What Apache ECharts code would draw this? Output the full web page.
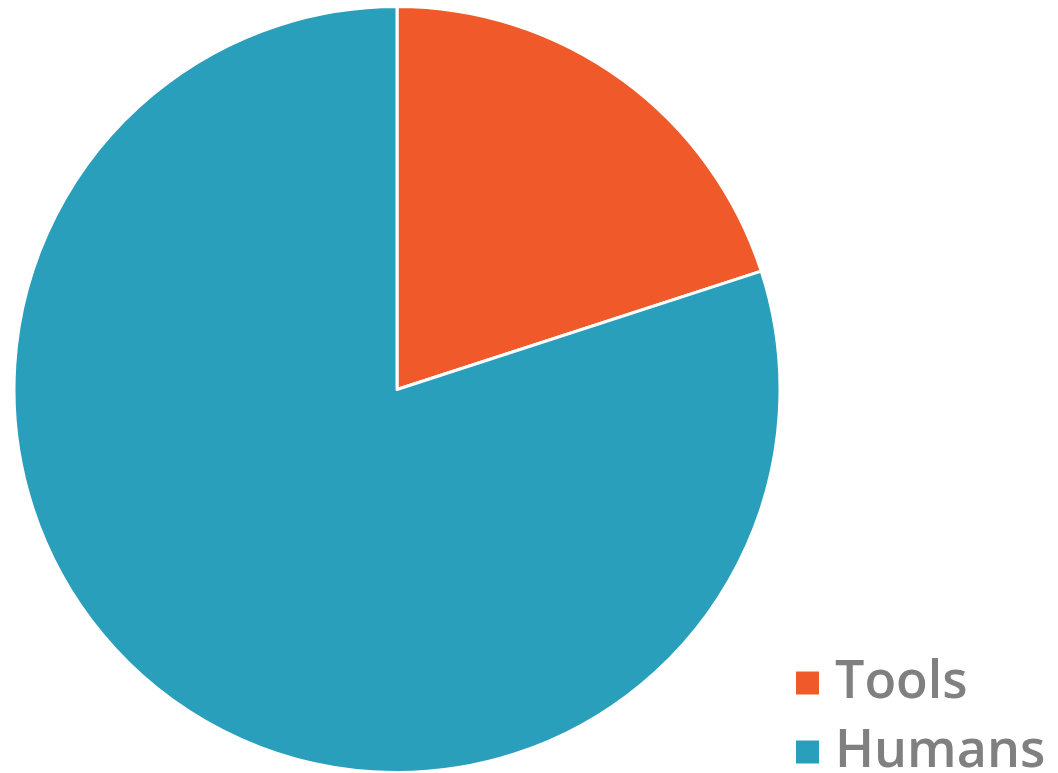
<!DOCTYPE html>
<html>
<head>
<meta charset="utf-8">
<script src="https://cdn.jsdelivr.net/npm/echarts@6/dist/echarts.min.js"></script>
<style>
  html, body { margin: 0; padding: 0; background: #fff; }
  #main { width: 1058px; height: 773px; }
</style>
</head>
<body>
<div id="main"></div>
<script>
// share of each group (percent)
var categories = ['Tools', 'Humans']
var values = [20, 80]
var colors = ['#F05A2A', '#2A9FBC']

var myChart = echarts.init(document.getElementById('main'))

var option = {
    backgroundColor: '#fff',
    animation: false,
    color: colors,
    legend: {
        orient: 'vertical',
        left: 794,
        top: 657,
        width: 264,
        height: 150,
        padding: 0,
        icon: 'rect',
        itemWidth: 25,
        itemHeight: 25,
        itemGap: 17,
        data: categories,
        textStyle: {
            color: '#808080',
            fontSize: 52,
            lineHeight: 50,
            fontFamily: 'Open Sans',
            fontWeight: 600,
            padding: [0, 0, 0, 10]
        }
    },
    series: [{
        type: 'pie',
        center: [397, 389.5],
        radius: 383,
        startAngle: 90,
        clockwise: true,
        label: { show: false },
        labelLine: { show: false },
        itemStyle: {
            borderColor: '#fff',
            borderWidth: 3
        },
        data: categories.map(function (name, i) {
            return { name: name, value: values[i] }
        })
    }]
}

myChart.setOption(option)
</script>
</body>
</html>
